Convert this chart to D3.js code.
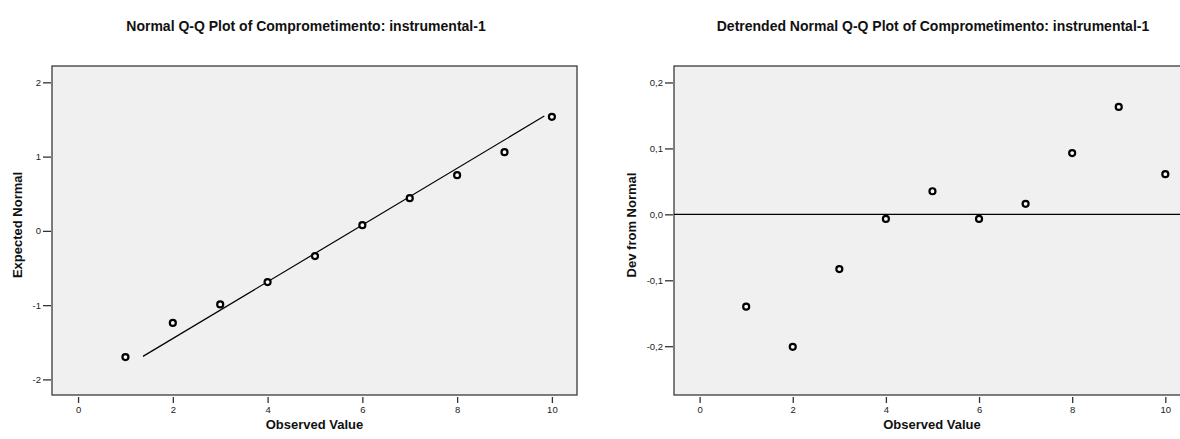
<!DOCTYPE html>
<html>
<head>
<meta charset="utf-8">
<script src="https://cdn.jsdelivr.net/npm/d3@7"></script>
<style>
  body { margin: 0; background: #fff; }
  svg { display: block; font-family: "Liberation Sans", Arial, sans-serif; }
  .tick text { fill: #222; font-size: 9.5px; }
  .tick line { stroke: #333; stroke-width: 1.3; }
  .title { font-size: 14px; font-weight: bold; fill: #111; }
  .axis-title { font-size: 13px; font-weight: bold; fill: #111; }
</style>
</head>
<body>
<svg id="chart" width="1180" height="439"></svg>
<script>
// values
const observed = [1, 2, 3, 4, 5, 6, 7, 8, 9, 10];
const expectedNormal = [-1.70, -1.24, -0.99, -0.69, -0.34, 0.077, 0.44, 0.75, 1.06, 1.536];
const devFromNormal = [-0.140, -0.201, -0.083, -0.007, 0.035, -0.007, 0.016, 0.093, 0.163, 0.061];
const fitLineX = [1.37, 9.84];
const fitLineY = [-1.69, 1.546];
const xTicks = [0, 2, 4, 6, 8, 10];
const normalTicks = [-2, -1, 0, 1, 2];
const devTicks = [-0.2, -0.1, 0, 0.1, 0.2];

const svg = d3.select('#chart');
// SPSS style: plain hyphen minus, decimal comma
const intFmt = d => d3.format('d')(d).replace('−', '-');
const commaFmt = d => d3.format('.1f')(d).replace('.', ',').replace('−', '-');

function drawPanel(opt) {
  const { left, top, width, height } = opt;
  const g = svg.append('g');

  const x = d3.scaleLinear().domain([-0.55, 10.53]).range([left, left + width]);
  const y = d3.scaleLinear().domain(opt.yDomain).range([top + height, top]);

  g.append('rect')
    .attr('x', left).attr('y', top)
    .attr('width', width).attr('height', height)
    .attr('fill', '#f0f0f0')
    .attr('stroke', '#3a3a3a')
    .attr('stroke-width', 1.3);

  // x axis, ticks sit just below the frame
  g.append('g')
    .attr('transform', `translate(0,${top + height + 2})`)
    .call(d3.axisBottom(x).tickValues(xTicks).tickSize(6).tickPadding(3).tickFormat(intFmt))
    .call(a => a.select('.domain').remove());

  g.append('g')
    .attr('transform', `translate(${left - 1},0)`)
    .call(d3.axisLeft(y).tickValues(opt.yTicks).tickSize(8).tickPadding(2).tickFormat(opt.fmt))
    .call(a => a.select('.domain').remove());

  if (opt.refLine) opt.refLine(g, x, y);

  g.append('g')
    .selectAll('circle')
    .data(observed.map((d, i) => [d, opt.values[i]]))
    .join('circle')
    .attr('cx', d => x(d[0]))
    .attr('cy', d => y(d[1]))
    .attr('r', 3)
    .attr('fill', '#fafafa')
    .attr('stroke', '#000')
    .attr('stroke-width', 2.2);

  g.append('text')
    .attr('class', 'title')
    .attr('x', opt.titleX).attr('y', 31)
    .attr('text-anchor', 'middle')
    .text(opt.title);

  g.append('text')
    .attr('class', 'axis-title')
    .attr('x', left + width / 2).attr('y', 429)
    .attr('text-anchor', 'middle')
    .text('Observed Value');

  g.append('text')
    .attr('class', 'axis-title')
    .attr('transform', `translate(${opt.yTitleX},225) rotate(-90)`)
    .attr('text-anchor', 'middle')
    .text(opt.yTitle);
}

drawPanel({
  left: 52, top: 66, width: 525, height: 329,
  yDomain: [-2.21, 2.22],
  yTicks: normalTicks,
  fmt: intFmt,
  values: expectedNormal,
  title: 'Normal Q-Q Plot of Comprometimento: instrumental-1',
  titleX: 306,
  yTitle: 'Expected Normal',
  yTitleX: 22,
  refLine: (g, x, y) => {
    g.append('line')
      .attr('x1', x(fitLineX[0])).attr('y1', y(fitLineY[0]))
      .attr('x2', x(fitLineX[1])).attr('y2', y(fitLineY[1]))
      .attr('stroke', '#000').attr('stroke-width', 1.2);
  }
});

drawPanel({
  left: 674, top: 66, width: 516, height: 329,
  yDomain: [-0.274, 0.225],
  yTicks: devTicks,
  fmt: commaFmt,
  values: devFromNormal,
  title: 'Detrended Normal Q-Q Plot of Comprometimento: instrumental-1',
  titleX: 933,
  yTitle: 'Dev from Normal',
  yTitleX: 636,
  refLine: (g, x, y) => {
    g.append('line')
      .attr('x1', x.range()[0]).attr('y1', y(0))
      .attr('x2', x.range()[1]).attr('y2', y(0))
      .attr('stroke', '#000').attr('stroke-width', 1.2);
  }
});
</script>
</body>
</html>
